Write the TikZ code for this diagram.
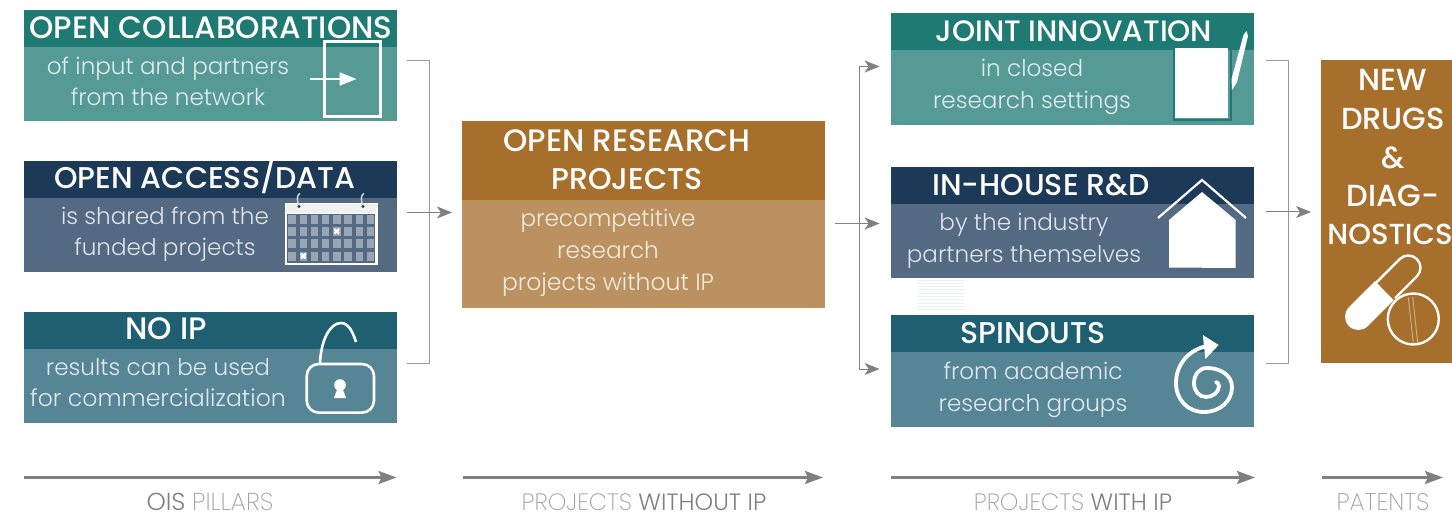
\documentclass[tikz,border=0pt]{standalone}
\usepackage{fontspec}
\setmainfont{Poppins Light}
\newfontfamily\tf{Poppins Medium}
\newfontfamily\lf{Poppins ExtraLight}
\usetikzlibrary{arrows.meta,calc}
\definecolor{hA}{HTML}{1F7A73}\definecolor{bA}{HTML}{559A95}
\definecolor{hB}{HTML}{1C3A58}\definecolor{bB}{HTML}{536A82}
\definecolor{hC}{HTML}{1F5F72}\definecolor{bC}{HTML}{568596}
\definecolor{hD}{HTML}{A66F2B}\definecolor{bD}{HTML}{BA915F}
\definecolor{gA}{HTML}{808080}
\tikzset{
 x=1pt,y=-1pt,
 ttl/.style={text=white,font=\tf\fontsize{#1}{#1}\selectfont,inner sep=0,anchor=center,text height=21pt,text depth=0pt},
 txt/.style={text=white,text opacity=.82,font=\fontsize{#1}{#1}\selectfont,inner sep=0,anchor=center,text height=17pt,text depth=0pt},
 txt/.default=23.1,
 axlab/.style={inner sep=0,anchor=center,font=\fontsize{#1}{#1}\selectfont,text height=16pt,text depth=0pt},
 link/.style={draw=gA!80,line width=1pt},
 arr/.style={draw=gA,line width=1pt,-{Stealth[length=15pt,width=12pt,inset=4pt]}},
 axis/.style={draw=gA,line width=2.5pt,-{Stealth[length=18pt,width=13pt,inset=3pt]}},
 ico/.style={draw=white,line width=2.6pt},
}
\newcommand{\twobox}[8]{% name,x1,x2,y1,y2,y3,head,body
 \fill[#8] (#2,#5) rectangle (#3,#6);
 \fill[#7] (#2,#4) rectangle (#3,#5);
 \node[inner sep=0,outer sep=0,minimum width={#3-#2},minimum height={#6-#4}] (#1) at ({(#2+#3)/2},{(#4+#6)/2}) {};
}
\begin{document}
\begin{tikzpicture}
\useasboundingbox (0,0) rectangle (1452,513);
\clip (0,0) rectangle (1452,513);
% boxes
\twobox{a1}{23.5}{396.7}{10}{46.7}{120.7}{hA}{bA}
\twobox{a2}{23.5}{396.7}{161}{198}{272}{hB}{bB}
\twobox{a3}{23.5}{396.7}{312}{349}{423}{hC}{bC}
\twobox{m}{461.5}{825}{121}{200}{308}{hD}{bD}
\twobox{c1}{890.6}{1254}{13}{50}{125}{hA}{bA}
\twobox{c2}{890.6}{1254}{167}{204}{277.7}{hB}{bB}
\twobox{c3}{890.6}{1254}{315}{352}{426.7}{hC}{bC}
\fill[hD] (1321,60) rectangle (1452,362.7);
\node[inner sep=0,outer sep=0,minimum width=131pt,minimum height=302.7pt] (d) at (1386.5,211.35) {};
% faint stripes
\foreach \yy in {280,283.3,...,310} \draw[draw=hA!10,line width=.8pt] (918,\yy) -- (964,\yy);
% titles
\node[ttl=31] (t1) at (211,28) {OPEN COLLABORATIONS};
\node[ttl=30] (t2) at (205,178) {OPEN ACCESS/DATA};
\node[ttl=31] (t3) at (166,329) {NO IP};
\node[ttl=31] (t4) at (627,141) {OPEN RESEARCH};
\node[ttl=30] (t5) at (627,179) {PROJECTS};
\node[ttl=29.5] (t6) at (1074,31) {JOINT INNOVATION};
\node[ttl=30] (t7) at (1041,185) {IN-HOUSE R\&D};
\node[ttl=30] (t8) at (1033,333) {SPINOUTS};
\node[ttl=30.5] (g1) at (1393,80) {NEW};
\node[ttl=30.5] (g2) at (1393,119) {DRUGS};
\node[ttl=30.5] (g3) at (1393,158) {\&};
\node[ttl=30.5] (g4) at (1393,196) {DIAG-};
\node[ttl=29] (g5) at (1390,234) {NOSTICS};
% body
\node[txt] (s1) at (168,66) {of input and partners};
\node[txt] (s2) at (168,97) {from the network};
\node[txt] (s3) at (165,216) {is shared from the};
\node[txt] (s4) at (165,247) {funded projects};
\node[txt] (s5) at (158,367) {results can be used};
\node[txt=23.6] (s6) at (158,398) {for commercialization};
\node[txt] (s7) at (608,218) {precompetitive};
\node[txt] (s8) at (608,250) {research};
\node[txt=23.5] (s9) at (608,282) {projects without IP};
\node[txt] (s10) at (1032,68) {in closed};
\node[txt] (s11) at (1032,100) {research settings};
\node[txt] (s12) at (1024,222) {by the industry};
\node[txt] (s13) at (1024,254) {partners themselves};
\node[txt] (s14) at (1033,371) {from academic};
\node[txt] (s15) at (1033,403) {research groups};
% connectors
\coordinate (p1) at (406.7,61); \coordinate (p2) at (429,61); \coordinate (p3) at (429,363.5); \coordinate (p4) at (406.7,363.5);
\coordinate (p5) at (406.7,212.5);
\draw[link] (p1) -- (p2) -- (p3) -- (p4);
\draw[arr,shorten >=9.5pt] (p5) -- (m.west |- p5);
\coordinate (q1) at (835,223.5);
\coordinate (q3) at (859,66.5); \coordinate (q4) at (859,369);
\draw[draw=gA,line width=1pt] (q3) -- (q4);
\draw[arr,shorten >=11pt] (q1) -- (c2.west |- q1);
\draw[arr,shorten >=11pt] (q3) -- (c1.west |- q3);
\draw[arr,shorten >=11pt] (q4) -- (c3.west |- q4);
\coordinate (r1) at (1266,61); \coordinate (r2) at (1288,61); \coordinate (r3) at (1288,363.3); \coordinate (r4) at (1266,363.3);
\coordinate (r5) at (1266,212);
\draw[link] (r1) -- (r2) -- (r3) -- (r4);
\draw[arr,shorten >=10pt] (r5) -- (d.west |- r5);
% axes
\coordinate (x1) at (23.5,477.5); \coordinate (x2) at (396.5,477.5);
\coordinate (x3) at (463,477.5); \coordinate (x4) at (823,477.5);
\coordinate (x5) at (891,477.5); \coordinate (x6) at (1255,477.5);
\coordinate (x7) at (1322,477.5); \coordinate (x8) at (1443,477.5);
\draw[axis] (x1)--(x2); \draw[axis] (x3)--(x4); \draw[axis] (x5)--(x6); \draw[axis] (x7)--(x8);
\node[axlab=24.5] (l1) at (210,502) {\color{gA}OIS \lf\color{gA!75}PILLARS};
\node[axlab=23.6] (l2) at (644,502) {{\lf\color{gA!75}PROJECTS }\color{gA}WITHOUT IP};
\node[axlab=23.6] (l3) at (1073,502) {{\lf\color{gA!75}PROJECTS }\color{gA}WITH IP};
\node[axlab=24] (l4) at (1383,502) {\lf\color{gA!75}PATENTS};
% icon 1
\draw[ico,line width=3pt] (324.5,41.7) rectangle (380.7,116.7);
\draw[draw=white,line width=2pt,-{Stealth[length=17pt,width=13pt,inset=0pt]}] (309.5,79) -- (356.5,79);
% icon 2 calendar
\fill[white] (285,202.7) rectangle (377.7,265);
\fill[black!6] (286.3,204) rectangle (376.4,212.7);
\fill[bB] (287.3,214) rectangle (375,262.7);
\foreach \j in {215,226.7,239.3,251.7} \foreach \i in {0,...,7} \fill[bB!60!white] ({288.3+\i*11.2},\j) rectangle ++(7.4,9);
\foreach \cx/\cy in {336.7/231.3,303.3/256} \draw[white,line width=2.2pt] (\cx-2.3,\cy-2.3) -- (\cx+2.3,\cy+2.3) (\cx-2.3,\cy+2.3) -- (\cx+2.3,\cy-2.3);
\foreach \rx in {299,363} {\draw[bB!30!white,line width=1.5pt] (\rx,206) .. controls (\rx-3,200) and (\rx-1.5,194) .. (\rx+1,193.5);
 \fill[hB] (\rx,206.5) circle (1.6);}
% icon 3 lock
\draw[ico,rounded corners=12pt] (306.7,364) rectangle (374,412.6);
\draw[ico] (320,363) .. controls (321,340) and (330,323) .. (341,323) .. controls (349,323) and (353,333) .. (356,342);
\fill[white] (340,385) circle (5.8);
\fill[white] (338,387) -- (342,387) -- (346,398) -- (334,398) -- cycle;
% icon 4 paper and pencil
\draw[hA,line width=2pt] (1173.5,47) -- (1173.5,120.5) -- (1231,120.5) -- (1231,47);
\fill[white] (1174.5,48) rectangle (1228,118.3);
\fill[white] (1243.5,35) -- (1246.5,31) -- (1248,36) -- (1237,82) -- (1232,90) -- (1231.5,79) -- cycle;
% icon 5 house
\fill[white] (1169,220) -- (1202,192) -- (1235.6,220) -- (1235.6,268) -- (1169,267.5) -- cycle;
\draw[draw=white,line width=2.2pt] (1158,218) -- (1202,180) -- (1246,218);
% icon 6 spiral
\draw[draw=white,line width=3.8pt,line cap=round] (1207,346) .. controls (1188,350) and (1176,365) .. (1176,383) .. controls (1176,400) and (1188,412) .. (1204,412) .. controls (1220,412) and (1232,401) .. (1232,387) .. controls (1232,375) and (1220,368) .. (1207,368) .. controls (1199,368) and (1194,375) .. (1194,383) .. controls (1194,391) and (1199,397) .. (1206,397) .. controls (1213,397) and (1219,392) .. (1219,386) .. controls (1219,384) and (1217,382) .. (1216,382);
\fill[white] (1218.6,345) -- (1202.8,335) -- (1205.4,359) -- cycle;
% icon 7 pill
\draw[draw=white,line width=2.4pt] (1376,282.8) -- (1399.7,259.1) .. controls (1404.5,254.3) and (1412.1,254.3) .. (1416.9,259.1) .. controls (1421.7,263.9) and (1421.7,271.5) .. (1416.9,276.3) -- (1395,298.2);
\fill[white] (1375,281.2) -- (1393.7,300.1) -- (1367.7,326.1) .. controls (1362.5,331.3) and (1354.1,331.3) .. (1348.9,326.1) .. controls (1343.7,320.9) and (1343.7,312.5) .. (1348.9,307.3) -- cycle;
\fill[hD] (1413.3,319) circle (26);
\draw[draw=white,line width=2.4pt] (1413.3,319) circle (25.5);
\draw[draw=white,opacity=.45,line width=.9pt] (1408.3,297.7) -- (1413.3,343.3) (1412.7,296.7) -- (1417.7,343.3);
\end{tikzpicture}
\end{document}
